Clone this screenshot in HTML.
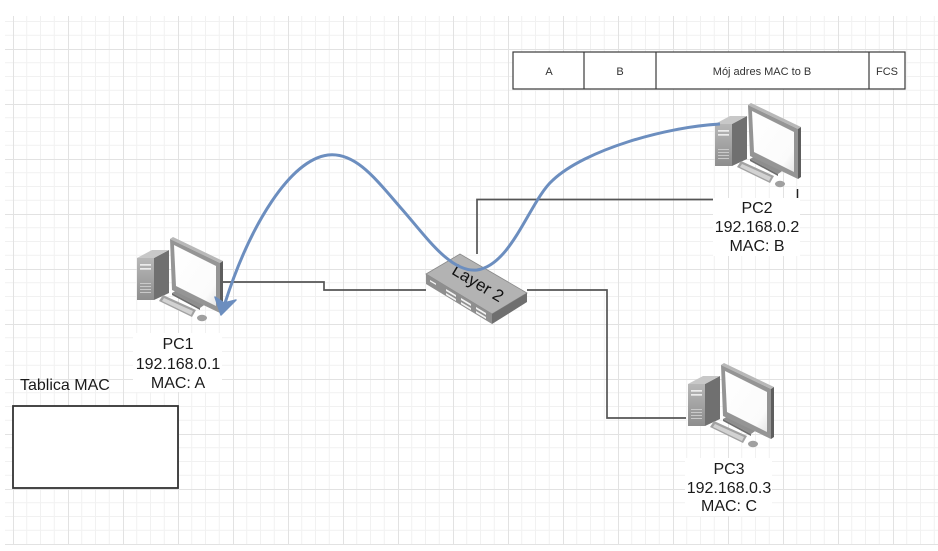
<!DOCTYPE html>
<html><head><meta charset="utf-8"><style>
html,body{margin:0;padding:0;background:#fff;}
svg{display:block;}
text{font-family:"Liberation Sans",sans-serif;}
</style></head><body>
<svg width="938" height="551" viewBox="0 0 938 551" xmlns="http://www.w3.org/2000/svg">
<defs>
<pattern id="grid" patternUnits="userSpaceOnUse" x="13" y="49" width="55" height="55">
  <rect width="55" height="55" fill="#fff"/>
  <g stroke="#f1f1f1" stroke-width="1">
    <line x1="13.75" y1="0" x2="13.75" y2="55"/><line x1="27.5" y1="0" x2="27.5" y2="55"/><line x1="41.25" y1="0" x2="41.25" y2="55"/>
    <line x1="0" y1="13.75" x2="55" y2="13.75"/><line x1="0" y1="27.5" x2="55" y2="27.5"/><line x1="0" y1="41.25" x2="55" y2="41.25"/>
  </g>
  <g stroke="#e2e2e2" stroke-width="1">
    <line x1="0.5" y1="0" x2="0.5" y2="55"/><line x1="0" y1="0.5" x2="55" y2="0.5"/>
  </g>
</pattern>
<linearGradient id="tw" x1="0" y1="0" x2="0" y2="1"><stop offset="0" stop-color="#b8b8b8"/><stop offset="1" stop-color="#8e8e8e"/></linearGradient>
<linearGradient id="scr" x1="0" y1="0" x2="1" y2="1"><stop offset="0" stop-color="#ffffff"/><stop offset="0.8" stop-color="#fbfbfb"/><stop offset="1" stop-color="#e6e6e6"/></linearGradient>
<g id="pc">
  <!-- tower -->
  <polygon points="17,20 32,12 32,55 17,62" fill="#707070"/>
  <polygon points="0,20 15,12 32,12 17,20" fill="#c8c8c8"/>
  <rect x="0" y="20" width="17" height="42" fill="url(#tw)"/>
  <rect x="3" y="26" width="11" height="1.7" fill="#ececec"/>
  <rect x="3" y="30" width="11" height="1.7" fill="#ececec"/>
  <rect x="3" y="45" width="11" height="1" fill="#c9c9c9"/>
  <rect x="3" y="48" width="11" height="1" fill="#c9c9c9"/>
  <rect x="3" y="51" width="11" height="1" fill="#c9c9c9"/>
  <rect x="3" y="54" width="11" height="1" fill="#c9c9c9"/>
  <!-- monitor base -->
  <polygon points="35,55 42,51 70,65 63,70" fill="#8e8e8e"/>
  <polygon points="35,55 63,70 63,72 35,57" fill="#6e6e6e"/>
  <!-- monitor -->
  <polygon points="33,1 36,-1 86,23 83,25" fill="#b8b8b8"/>
  <polygon points="83,25 86,23 86,73 83,75" fill="#5e5e5e"/>
  <polygon points="33,1 83,25 83,75 35,52" fill="#959595"/>
  <polygon points="37,7 79,28 79,68 39,48" fill="url(#scr)"/>
  <!-- keyboard -->
  <polygon points="26,57 22,63 55,79 59,72" fill="#a2a2a2"/>
  <polygon points="27,60 25,63 54,77 56,73" fill="#d2d2d2"/>
  <!-- mouse -->
  <ellipse cx="65" cy="80" rx="5" ry="3.2" fill="#a0a0a0"/>
</g>
</defs>

<rect x="0" y="0" width="938" height="551" fill="#fff"/>
<rect x="5" y="16" width="933" height="529" fill="url(#grid)"/>

<!-- frame table -->
<g fill="#fff" stroke="#3a3a3a" stroke-width="1.2">
  <rect x="513" y="52" width="392" height="37"/>
  <line x1="584" y1="52" x2="584" y2="89"/>
  <line x1="656" y1="52" x2="656" y2="89"/>
  <line x1="869" y1="52" x2="869" y2="89"/>
</g>
<g font-size="11" fill="#333" text-anchor="middle">
  <text x="549" y="75">A</text>
  <text x="620" y="75">B</text>
  <text x="762" y="75">Mój adres MAC to B</text>
  <text x="887" y="75">FCS</text>
</g>

<!-- connector lines -->
<g fill="none" stroke="#555" stroke-width="1.7">
  <polyline points="222,282 324,282 324,290 426,290"/>
  <polyline points="477,254 477,199.5 713,199.5"/>
  <polyline points="527,290 607,290 607,418 686,418"/>
  <line x1="797.5" y1="189" x2="797.5" y2="198" stroke="#222" stroke-width="1.5"/>
</g>

<!-- switch -->
<polygon points="426,274 460,254 527,293 492,314" fill="#b3b3b3" stroke="#8a8a8a" stroke-width="0.8"/>
<polygon points="426,274 492,314 492,324 426,284" fill="#8f8f8f"/>
<polygon points="492,314 527,293 527,302 492,324" fill="#6f6f6f"/>
<g fill="#f2f2f2">
  <polygon points="430,280 436,283.5 436,285 430,281.5"/>
  <polygon points="446,289 456,295 456,297 446,291"/>
  <polygon points="446,293 456,299 456,301 446,295"/>
  <polygon points="461,298 471,304 471,306 461,300"/>
  <polygon points="461,302 471,308 471,310 461,304"/>
  <polygon points="476,307 486,313 486,315 476,309"/>
  <polygon points="476,311 486,317 486,319 476,313"/>
</g>
<text x="0" y="0" font-size="17" fill="#111" text-anchor="middle" transform="translate(475,288) rotate(31)">Layer 2</text>

<!-- PCs -->
<use href="#pc" x="137" y="238"/>
<use href="#pc" x="715" y="104"/>
<use href="#pc" x="688" y="364"/>

<!-- labels -->
<rect x="133" y="333" width="89" height="59" fill="#fff"/>
<rect x="713" y="198" width="87" height="58" fill="#fff"/>
<rect x="685" y="458" width="87" height="58" fill="#fff"/>
<g font-size="16" fill="#1a1a1a" text-anchor="middle">
  <text x="178" y="349">PC1</text>
  <text x="178" y="369">192.168.0.1</text>
  <text x="178" y="388">MAC: A</text>
  <text x="757" y="213">PC2</text>
  <text x="757" y="232">192.168.0.2</text>
  <text x="757" y="251">MAC: B</text>
  <text x="729" y="474">PC3</text>
  <text x="729" y="493">192.168.0.3</text>
  <text x="729" y="511">MAC: C</text>
</g>

<!-- Tablica MAC -->
<text x="20" y="390" font-size="16" fill="#1a1a1a">Tablica MAC</text>
<rect x="13" y="406" width="165" height="82" fill="#fff" stroke="#333" stroke-width="1.8"/>

<!-- blue curve -->
<path d="M720,124 C665,127 585,150 553,180 C530,200 512,265 477,270 C450,273 425,235 400,207 C375,178 355,152 328,155 C290,160 250,225 225,303" fill="none" stroke="#6c8ebf" stroke-width="3"/>
<polygon points="221,315 215,297 224,303 236,300" fill="#6c8ebf" stroke="#6c8ebf" stroke-width="1.5" stroke-linejoin="round"/>
</svg>
</body></html>
